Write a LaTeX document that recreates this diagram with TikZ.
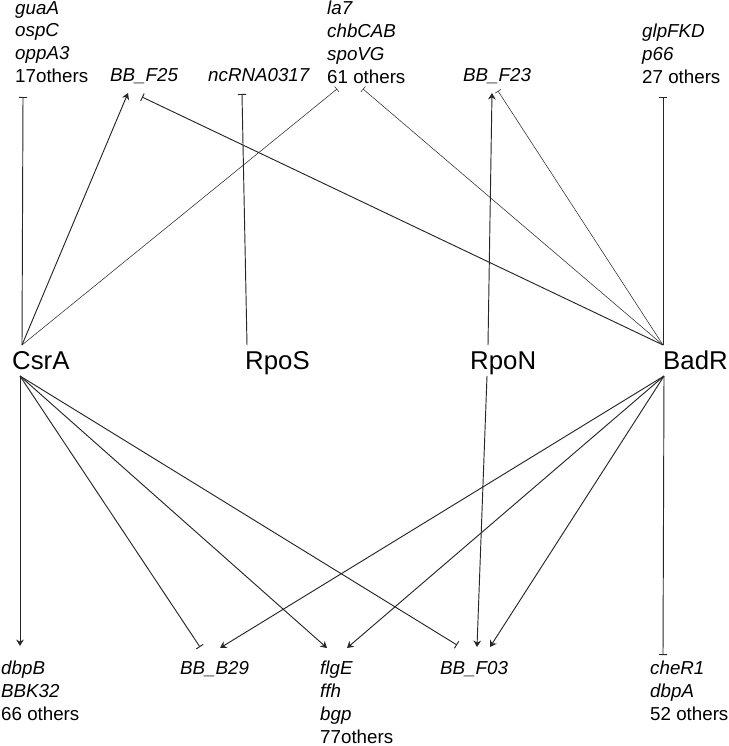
\documentclass[tikz,border=0pt]{standalone}
\usepackage{fontspec}
\setmainfont{Liberation Sans}
\usepackage{tikz}
\usetikzlibrary{arrows.meta, positioning}

\begin{document}
\begin{tikzpicture}[
    x=0.03cm, y=-0.03cm,
    font=\fontsize{16}{19.5}\selectfont,
    gene/.style={inner sep=0pt, align=left, anchor=north west},
    reg/.style={inner sep=0pt, anchor=base west, font=\fontsize{22}{26}\selectfont},
    act/.style={-{Stealth[length=5.5pt, width=6.5pt]}, line width=0.8pt, color=black!85},
    inh/.style={-{Bar[width=7pt]}, line width=0.8pt, color=black!85},
    thininh/.style={-{Bar[width=6pt]}, line width=0.45pt, color=black!85}
]
    \useasboundingbox (0,0) rectangle (729,746);

    % regulators
    \node[reg] (csra) at (12,369) {CsrA};
    \node[reg] (rpos) at (245,369) {RpoS};
    \node[reg] (rpon) at (470,369) {RpoN};
    \node[reg] (badr) at (663,369) {BadR};

    \coordinate (csra-up) at (22,345);
    \coordinate (csra-dn) at (20,376);
    \coordinate (rpos-up) at (247,345);
    \coordinate (rpon-up) at (488,345);
    \coordinate (rpon-dn) at (487,376);
    \coordinate (badr-up) at (663,345);
    \coordinate (badr-dn) at (664,376);

    % targets, top row
    \node[gene] (g17) at (15,1) {\textit{guaA}\\\textit{ospC}\\\textit{oppA3}\\17others};
    \node[gene] (f25) at (110,68.5) {\textit{BB\_F25}};
    \node[gene] (nc) at (208,68.5) {\textit{ncRNA0317}};
    \node[gene] (g61) at (327,1) {\textit{la7}\\\textit{chbCAB}\\\textit{spoVG}\\61 others};
    \node[gene] (f23) at (463,68.5) {\textit{BB\_F23}};
    \node[gene] (g27) at (642,23.5) {\textit{glpFKD}\\\textit{p66}\\27 others};

    % targets, bottom row
    \node[gene] (g66) at (1,661) {\textit{dbpB}\\\textit{BBK32}\\66 others};
    \node[gene] (b29) at (180,661) {\textit{BB\_B29}};
    \node[gene] (g77) at (320,661) {\textit{flgE}\\\textit{ffh}\\\textit{bgp}\\77others};
    \node[gene] (f03) at (440,661) {\textit{BB\_F03}};
    \node[gene] (g52) at (650,661) {\textit{cheR1}\\\textit{dbpA}\\52 others};

    \coordinate (e-g17) at (23,97);
    \coordinate (e-f25a) at (128,93);
    \coordinate (e-f25i) at (142,97);
    \coordinate (e-nc) at (242,94);
    \coordinate (e-g61a) at (337,89);
    \coordinate (e-g61b) at (363,89);
    \coordinate (e-f23a) at (492,93);
    \coordinate (e-f23i) at (498,91);
    \coordinate (e-g27) at (663,97);

    \coordinate (e-g66) at (20,646);
    \coordinate (e-b29i) at (200,647);
    \coordinate (e-b29a) at (220,648);
    \coordinate (e-g77a) at (327,648);
    \coordinate (e-g77b) at (347,648);
    \coordinate (e-f03i) at (457,645);
    \coordinate (e-f03a) at (477,647);
    \coordinate (e-f03b) at (490,647);
    \coordinate (e-g52) at (663,655);

    % upper edges
    \draw[inh] (csra-up) -- (e-g17);
    \draw[act] (csra-up) -- (e-f25a);
    \draw[thininh] (csra-up) -- (e-g61a);
    \draw[inh] (rpos-up) -- (e-nc);
    \draw[act] (rpon-up) -- (e-f23a);
    \draw[thininh] (badr-up) -- (e-f23i);
    \draw[thininh] (badr-up) -- (e-g61b);
    \draw[inh] (badr-up) -- (e-f25i);
    \draw[inh] (badr-up) -- (e-g27);

    % lower edges
    \draw[act] (csra-dn) -- (e-g66);
    \draw[inh] (csra-dn) -- (e-b29i);
    \draw[act] (csra-dn) -- (e-g77a);
    \draw[inh] (csra-dn) -- (e-f03i);
    \draw[act] (badr-dn) -- (e-b29a);
    \draw[act] (badr-dn) -- (e-g77b);
    \draw[act] (rpon-dn) -- (e-f03a);
    \draw[act] (badr-dn) -- (e-f03b);
    \draw[inh] (badr-dn) -- (e-g52);
\end{tikzpicture}
\end{document}
